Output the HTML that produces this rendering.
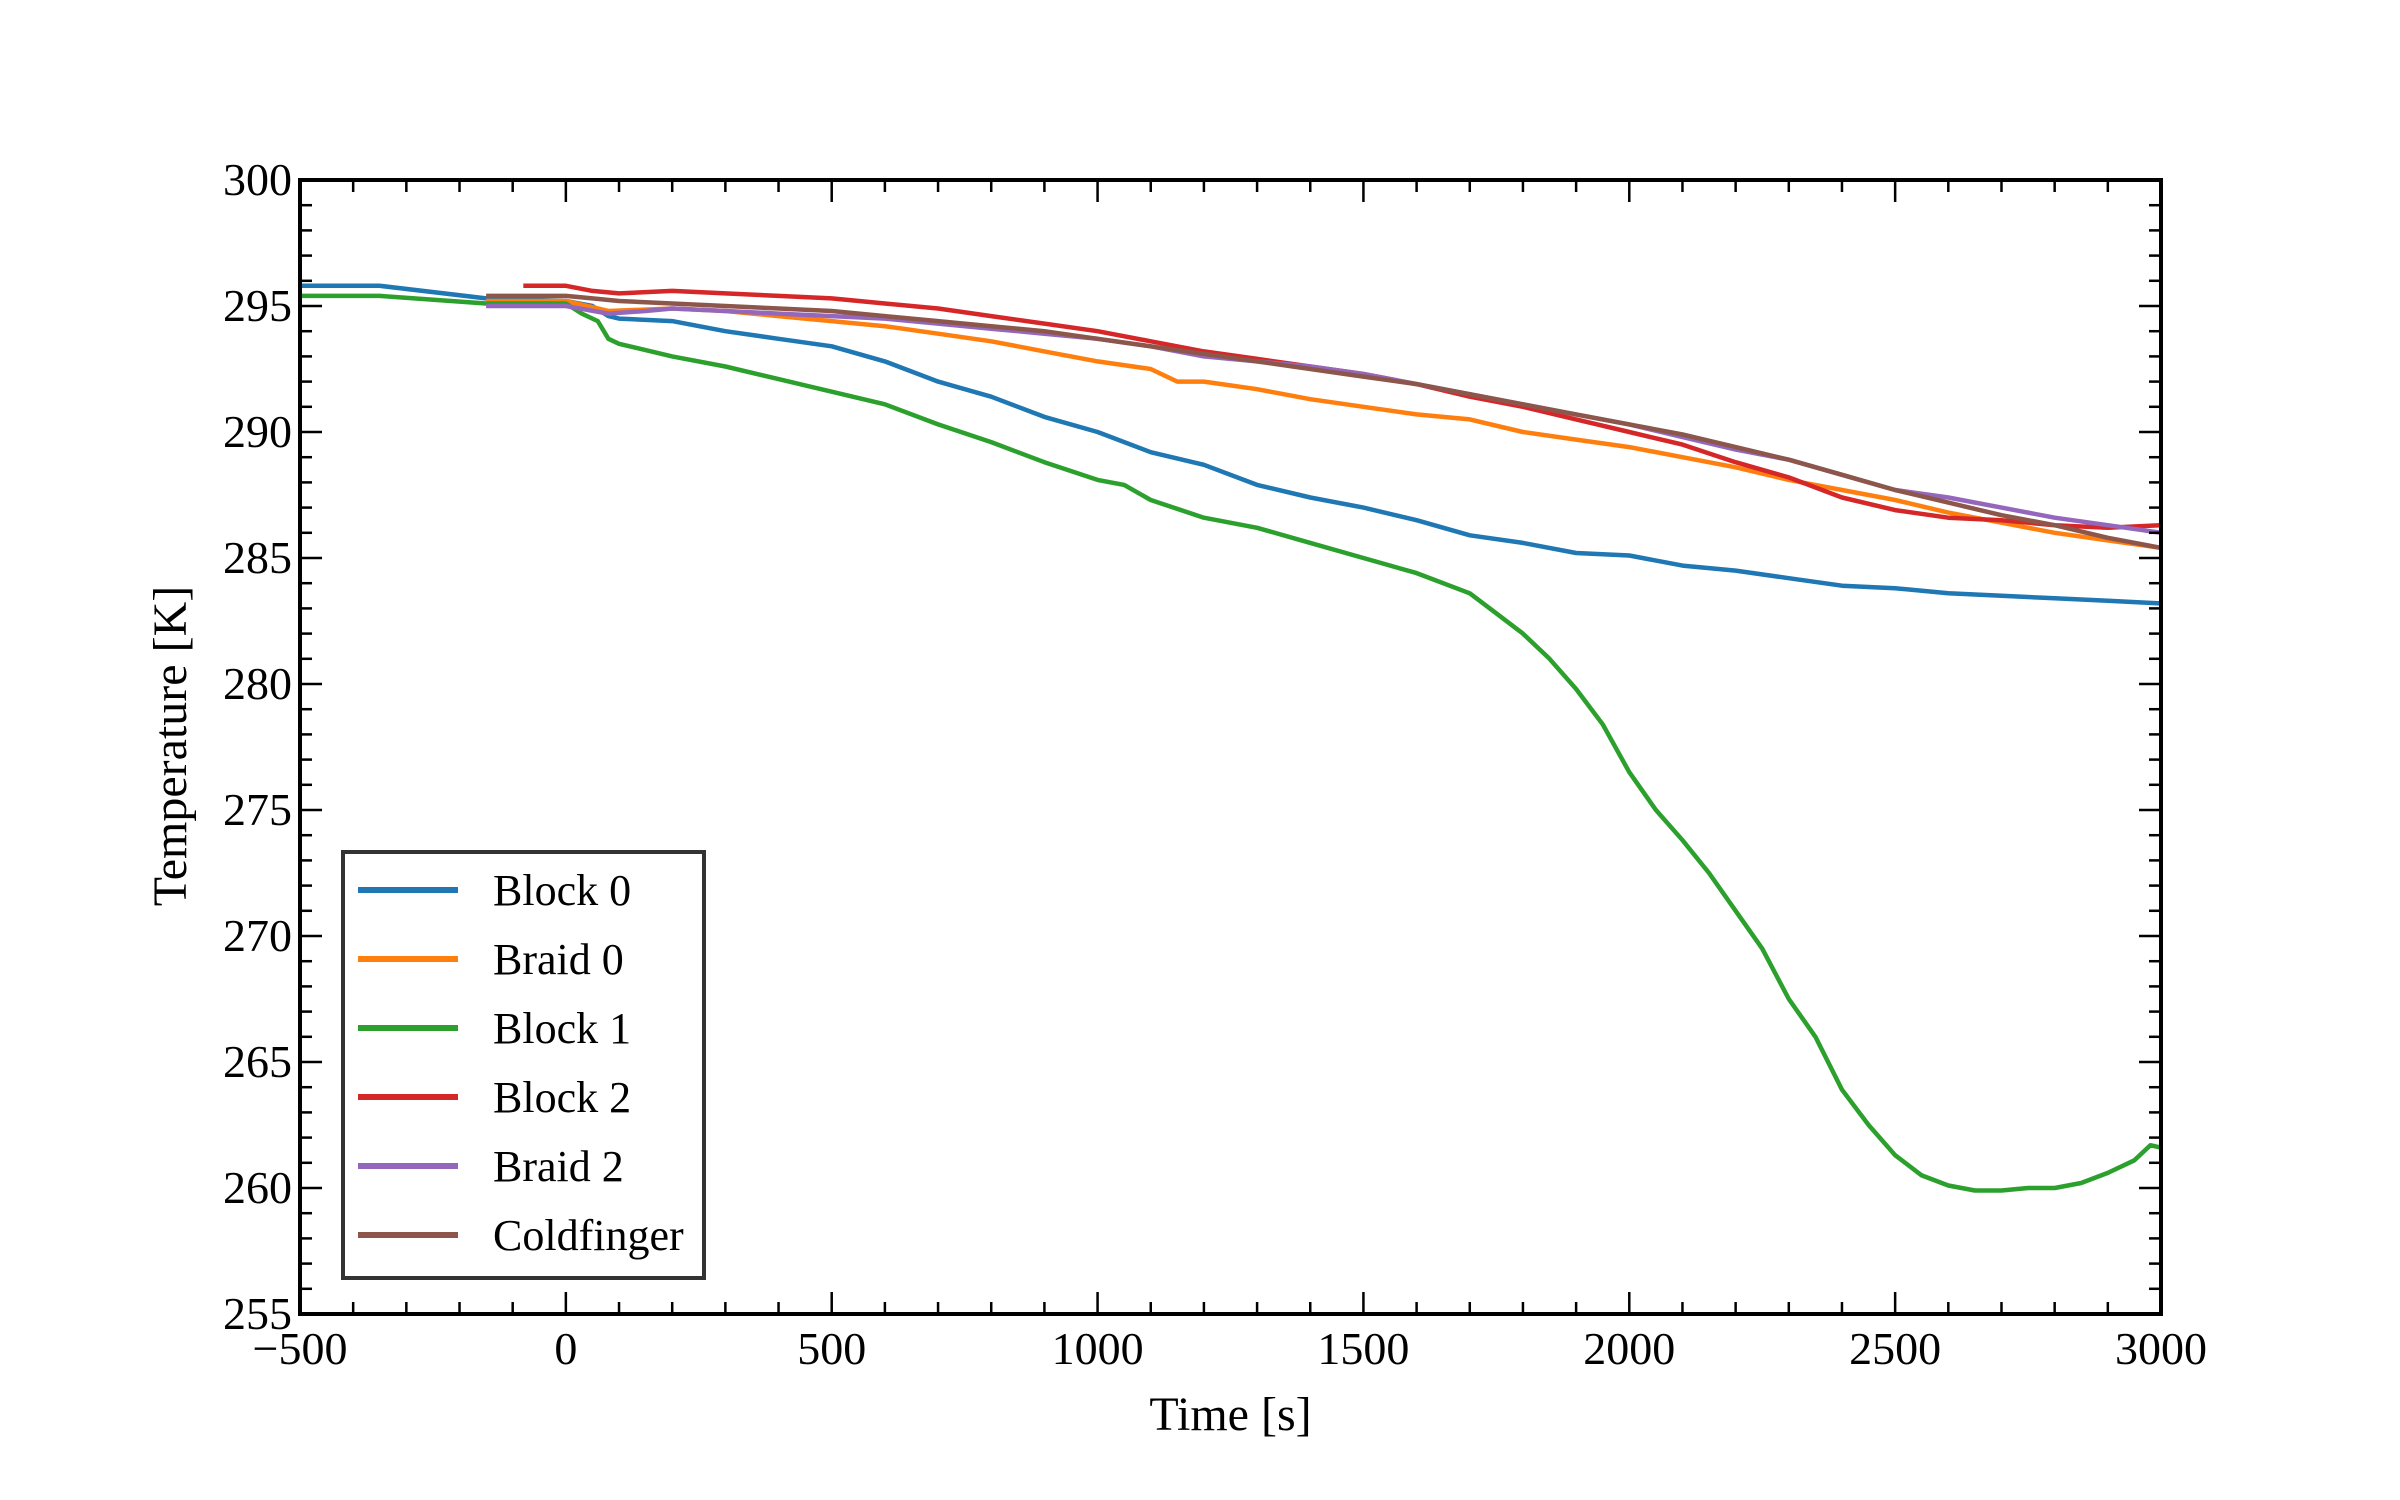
<!DOCTYPE html>
<html><head><meta charset="utf-8"><style>
html,body{margin:0;padding:0;background:#fff;}
svg{display:block;font-family:"Liberation Serif","DejaVu Serif",serif;}
</style></head><body>
<svg id="chart" width="2400" height="1500" viewBox="0 0 2400 1500">
<rect width="2400" height="1500" fill="#fff"/>
<g id="series"></g>
<g id="axes"></g>
<g id="legend"></g>
</svg>
<script>
const xTicks = [-500, 0, 500, 1000, 1500, 2000, 2500, 3000];
const yTicks = [255, 260, 265, 270, 275, 280, 285, 290, 295, 300];
const seriesNames = ["Block 0", "Braid 0", "Block 1", "Block 2", "Braid 2", "Coldfinger"];
const seriesColors = ["#1f77b4", "#ff7f0e", "#2ca02c", "#d62728", "#9467bd", "#8c564b"];
const block0T = [-500,-350,-150,0,50,80,100,200,300,400,500,600,700,800,900,1000,1100,1200,1300,1400,1500,1600,1700,1800,1900,2000,2100,2200,2300,2400,2500,2600,2700,2800,2900,3000];
const block0V = [295.8,295.8,295.3,295.2,295.0,294.6,294.5,294.4,294.0,293.7,293.4,292.8,292.0,291.4,290.6,290.0,289.2,288.7,287.9,287.4,287.0,286.5,285.9,285.6,285.2,285.1,284.7,284.5,284.2,283.9,283.8,283.6,283.5,283.4,283.3,283.2];
const braid0T = [-150,0,80,200,300,400,500,600,700,800,900,1000,1100,1150,1200,1300,1400,1500,1600,1700,1800,1900,2000,2100,2200,2300,2400,2500,2600,2700,2800,2900,3000];
const braid0V = [295.2,295.2,294.8,294.9,294.8,294.6,294.4,294.2,293.9,293.6,293.2,292.8,292.5,292.0,292.0,291.7,291.3,291.0,290.7,290.5,290.0,289.7,289.4,289.0,288.6,288.1,287.7,287.3,286.8,286.4,286.0,285.7,285.4];
const block1T = [-500,-350,-150,0,30,60,80,100,200,300,400,500,600,700,800,900,1000,1050,1100,1200,1300,1400,1500,1600,1700,1750,1800,1850,1900,1950,2000,2050,2100,2150,2200,2250,2300,2350,2400,2450,2500,2550,2600,2650,2700,2750,2800,2850,2900,2950,2980,3000];
const block1V = [295.4,295.4,295.1,295.1,294.7,294.4,293.7,293.5,293.0,292.6,292.1,291.6,291.1,290.3,289.6,288.8,288.1,287.9,287.3,286.6,286.2,285.6,285.0,284.4,283.6,282.8,282.0,281.0,279.8,278.4,276.5,275.0,273.8,272.5,271.0,269.5,267.5,266.0,263.9,262.5,261.3,260.5,260.1,259.9,259.9,260.0,260.0,260.2,260.6,261.1,261.7,261.6];
const block2T = [-80,0,50,100,200,300,400,500,600,700,800,900,1000,1100,1200,1300,1400,1500,1600,1700,1800,1900,2000,2100,2200,2300,2400,2500,2600,2700,2800,2900,3000];
const block2V = [295.8,295.8,295.6,295.5,295.6,295.5,295.4,295.3,295.1,294.9,294.6,294.3,294.0,293.6,293.2,292.9,292.6,292.3,291.9,291.4,291.0,290.5,290.0,289.5,288.8,288.2,287.4,286.9,286.6,286.5,286.3,286.2,286.3];
const braid2T = [-150,0,80,150,200,300,400,500,600,700,800,900,1000,1100,1200,1300,1400,1500,1600,1700,1800,1900,2000,2100,2200,2300,2400,2500,2600,2700,2800,2900,3000];
const braid2V = [295.0,295.0,294.7,294.8,294.9,294.8,294.7,294.6,294.5,294.3,294.1,293.9,293.7,293.4,293.0,292.8,292.6,292.3,291.9,291.5,291.1,290.7,290.3,289.8,289.3,288.9,288.3,287.7,287.4,287.0,286.6,286.3,286.0];
const coldT = [-150,0,50,100,200,300,400,500,600,700,800,900,1000,1100,1200,1300,1400,1500,1600,1700,1800,1900,2000,2100,2200,2300,2400,2500,2600,2700,2800,2900,3000];
const coldV = [295.4,295.4,295.3,295.2,295.1,295.0,294.9,294.8,294.6,294.4,294.2,294.0,293.7,293.4,293.1,292.8,292.5,292.2,291.9,291.5,291.1,290.7,290.3,289.9,289.4,288.9,288.3,287.7,287.2,286.7,286.3,285.8,285.4];

const NS = "http://www.w3.org/2000/svg";
const L = 300, R = 2161, T = 180, B = 1314;
const xMin = -500, xMax = 3000, yMin = 255, yMax = 300;
function xs(v){ return L + (v - xMin) / (xMax - xMin) * (R - L); }
function ys(v){ return B - (v - yMin) / (yMax - yMin) * (B - T); }
function mk(tag, attrs, parent){ const e = document.createElementNS(NS, tag); for (const k in attrs) e.setAttribute(k, attrs[k]); parent.appendChild(e); return e; }

const seriesG = document.getElementById("series");
const allT = [block0T, braid0T, block1T, block2T, braid2T, coldT];
const allV = [block0V, braid0V, block1V, block2V, braid2V, coldV];
[0,1,2,3,4,5].forEach(i => {
  const d = allT[i].map((t, j) => (j ? "L" : "M") + xs(t).toFixed(1) + "," + ys(allV[i][j]).toFixed(1)).join(" ");
  const p = mk("path", {d: d, fill: "none", stroke: seriesColors[i], "stroke-width": 4.5, "stroke-linejoin": "round"}, seriesG);
  
  
});

const axes = document.getElementById("axes");
for (let v = xMin; v <= xMax; v += 100) {
  const major = (v % 500 === 0);
  const len = major ? 22 : 12;
  const t1 = mk("line", {x1: xs(v), x2: xs(v), y1: B, y2: B - len, stroke: "#000", "stroke-width": 2.5}, axes);
  
  
  const t2 = mk("line", {x1: xs(v), x2: xs(v), y1: T, y2: T + len, stroke: "#000", "stroke-width": 2.5}, axes);
  
  
}
for (let v = yMin; v <= yMax; v += 1) {
  const major = (v % 5 === 0);
  const len = major ? 22 : 12;
  const t1 = mk("line", {x1: L, x2: L + len, y1: ys(v), y2: ys(v), stroke: "#000", "stroke-width": 2.5}, axes);
  
  
  const t2 = mk("line", {x1: R, x2: R - len, y1: ys(v), y2: ys(v), stroke: "#000", "stroke-width": 2.5}, axes);
  
  
}
const frame = mk("rect", {x: L, y: T, width: R - L, height: B - T, fill: "none", stroke: "#000", "stroke-width": 4}, axes);



xTicks.forEach(v => {
  const t = mk("text", {x: xs(v), y: B + 50, "font-size": 46, "text-anchor": "middle"}, axes);
  t.textContent = v < 0 ? "\u2212" + Math.abs(v) : String(v);
  
  
});
yTicks.forEach(v => {
  const t = mk("text", {x: L - 8, y: ys(v) + 15, "font-size": 46, "text-anchor": "end"}, axes);
  t.textContent = String(v);
  
  
});
const xt = mk("text", {x: (L + R) / 2, y: 1430, "font-size": 48, "text-anchor": "middle"}, axes);
xt.textContent = "Time [s]";


const yt = mk("text", {x: 0, y: 0, "font-size": 48, "text-anchor": "middle", transform: "translate(186,746) rotate(-90)"}, axes);
yt.textContent = "Temperature [K]";



const lg = document.getElementById("legend");
const box = mk("rect", {x: 343, y: 852, width: 361, height: 426, fill: "#fff", stroke: "#333", "stroke-width": 4}, lg);


seriesNames.forEach((n, i) => {
  const y = 890 + i * 69;
  const g = mk("g", {}, lg);
  
  
  const ln = mk("line", {x1: 358, x2: 458, y1: y, y2: y, stroke: seriesColors[i], "stroke-width": 6}, g);
  
  
  const tx = mk("text", {x: 493, y: y + 15, "font-size": 44}, g);
  tx.textContent = n;
  
  
});
</script>
</body></html>
